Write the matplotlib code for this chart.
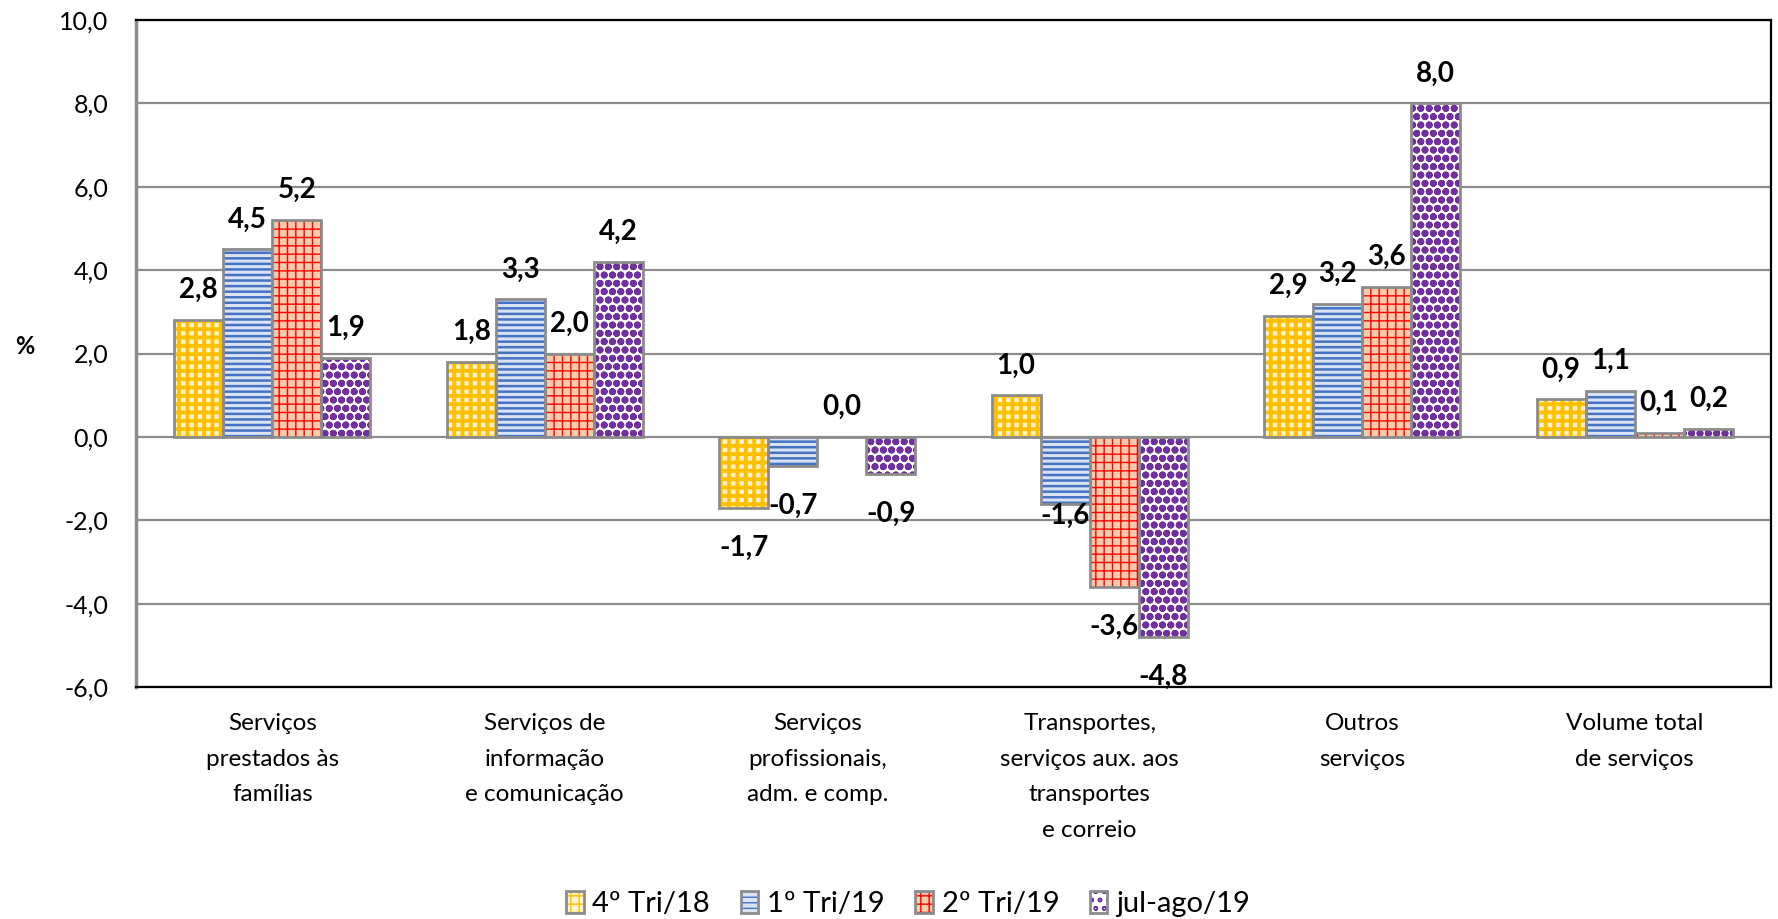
import matplotlib
matplotlib.use("Agg")
import matplotlib.pyplot as plt
import numpy as np
from matplotlib.patches import Patch
from matplotlib.ticker import FuncFormatter

plt.rcParams["font.family"] = ["Lato", "DejaVu Sans"]

# -------------------- data --------------------
categories = [
    "Serviços\nprestados às\nfamílias",
    "Serviços de\ninformação\ne comunicação",
    "Serviços\nprofissionais,\nadm. e comp.",
    "Transportes,\nserviços aux. aos\ntransportes\ne correio",
    "Outros\nserviços",
    "Volume total\nde serviços",
]
series_names = ["4º Tri/18", "1º Tri/19", "2º Tri/19", "jul-ago/19"]
tri4_18 = [2.8, 1.8, -1.7, 1.0, 2.9, 0.9]
tri1_19 = [4.5, 3.3, -0.7, -1.6, 3.2, 1.1]
tri2_19 = [5.2, 2.0, 0.0, -3.6, 3.6, 0.1]
julago_19 = [1.9, 4.2, -0.9, -4.8, 8.0, 0.2]
y_ticks = [-6, -4, -2, 0, 2, 4, 6, 8, 10]

# -------------------- styles --------------------
styles = [
    # face, hatch colour, hatch, hatch linewidth
    ("#FFF2CC", "#FFC000", "++", 2.8),
    ("#DAE3F3", "#4472C4", "---", 1.8),
    ("#F8CBAD", "#FF0000", "++", 1.0),
    ("#FFFFFF", "#7030A0", "oo", 2.6),
]
# (series index, category index) -> label offset override in points
label_nudge = {(1, 3): -9}

values = [tri4_18, tri1_19, tri2_19, julago_19]
x = np.arange(len(categories))
width = 0.18
edge = "#8C8C8C"

fig = plt.figure(figsize=(17.78, 9.19), dpi=100)
ax = fig.add_axes([0.0765, 0.2524, 0.9195, 0.7258])

handles = []
for i, (vals, (face, hcol, hatch, hlw)) in enumerate(zip(values, styles)):
    pos = x + (i - 1.5) * width
    with plt.rc_context({"hatch.linewidth": hlw}):
        ax.bar(pos, vals, width, color=face, edgecolor=hcol, hatch=hatch,
               linewidth=0, zorder=3)
    ax.bar(pos, vals, width, fill=False, edgecolor=edge, linewidth=2, zorder=4)
    with plt.rc_context({"hatch.linewidth": hlw}):
        h1 = Patch(facecolor=face, edgecolor=hcol, hatch=hatch, linewidth=0)
    h2 = Patch(fill=False, edgecolor=edge, linewidth=2)
    handles.append((h1, h2))

    for j, (p, v) in enumerate(zip(pos, vals)):
        txt = f"{v:.1f}".replace(".", ",")
        off = 21.5 if v >= 0 else -28.5
        off = label_nudge.get((i, j), off)
        ax.annotate(txt, (p, v), xytext=(0, off), textcoords="offset points",
                    ha="center", va="center", fontsize=20, fontweight="bold",
                    zorder=5)

ax.set_xlim(-0.5, len(categories) - 0.5)
ax.set_ylim(-6, 10)
ax.set_yticks(y_ticks)
ax.yaxis.set_major_formatter(FuncFormatter(lambda v, p: f"{v:.1f}".replace(".", ",")))
ax.grid(axis="y", color="#8C8C8C", linewidth=1.6, zorder=0)
ax.set_axisbelow(True)

ax.set_xticks(x)
ax.set_xticklabels(categories, fontsize=17.5, linespacing=1.85, va="top")
ax.tick_params(axis="x", length=0, pad=19)
ax.tick_params(axis="y", length=0, pad=20, labelsize=18)

for s in ["top", "right", "bottom"]:
    ax.spines[s].set_color("black")
    ax.spines[s].set_linewidth(1.6)
ax.spines["left"].set_color("#8C8C8C")
ax.spines["left"].set_linewidth(2.5)

fig.text(25 / 1778, 1 - 346 / 919, "%", fontsize=17, fontweight="bold",
         ha="center", va="center")

fig.legend(handles, series_names, loc="center",
           bbox_to_anchor=(908 / 1778, 1 - 904 / 919), ncol=4, frameon=False,
           fontsize=21, handlelength=0.6, handleheight=0.8,
           handletextpad=0.3, columnspacing=1.05)

fig.savefig("out.png", dpi=100)
